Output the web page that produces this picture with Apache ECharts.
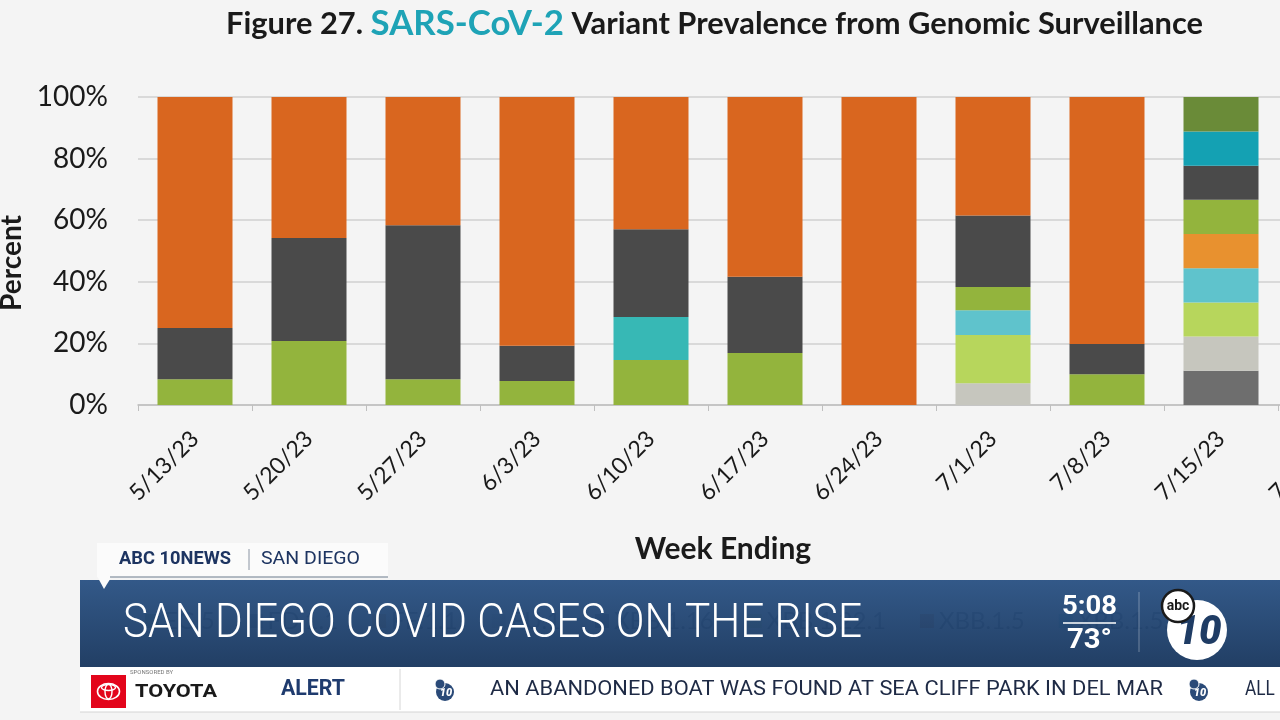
<!DOCTYPE html>
<html><head><meta charset="utf-8">
<script src="https://cdn.jsdelivr.net/npm/echarts@6/dist/echarts.min.js"></script>
<style>html,body{margin:0;padding:0;background:#F4F4F4;overflow:hidden}#chart{width:1280px;height:720px;}</style>
</head><body><div id="chart"></div>
<script>
// ---- data (percent of sequences per week) ----
const categories = ['5/13/23','5/20/23','5/27/23','6/3/23','6/10/23','6/17/23','6/24/23','7/1/23','7/8/23','7/15/23','7/22/23'];
const yTickMin = 0, yTickMax = 100, yTickStep = 20;
// stacked bottom -> top
const fd11     = [0, 0, 0, 0, 0, 0, 0, 0, 0, 11.1, null];
const fu1      = [0, 0, 0, 0, 0, 0, 0, 7.1, 0, 11.1, null];
const xbb1221  = [0, 0, 0, 0, 0, 0, 0, 15.6, 0, 11.1, null];
const xbb1559  = [0, 0, 0, 0, 0, 0, 0, 8.1, 0, 11.1, null];
const fe11     = [0, 0, 0, 0, 0, 0, 0, 0, 0, 11.1, null];
const xbb191   = [8.4, 20.8, 8.4, 7.8, 14.6, 16.9, 0, 7.5, 10.0, 11.1, null];
const xbb192   = [0, 0, 0, 0, 14.0, 0, 0, 0, 0, 0, null];
const xbb116   = [16.6, 33.4, 50.0, 11.4, 28.5, 24.7, 0, 23.2, 9.8, 11.1, null];
const xbb232   = [0, 0, 0, 0, 0, 0, 0, 0, 0, 11.1, null];
const eg5      = [0, 0, 0, 0, 0, 0, 0, 0, 0, 11.2, null];
const xbb15    = [75.0, 45.8, 41.6, 80.8, 42.9, 58.4, 100, 38.5, 80.2, 0, null];

const seriesDefs = [
  ['FD.1.1', fd11, '#6E6E6E'],
  ['FU.1', fu1, '#C6C6BE'],
  ['XBB.1.22.1', xbb1221, '#B7D65C'],
  ['XBB.1.5.59', xbb1559, '#5FC3CC'],
  ['FE.1.1', fe11, '#E8912F'],
  ['XBB.1.9.1', xbb191, '#93B43D'],
  ['XBB.1.9.2', xbb192, '#37B8B5'],
  ['XBB.1.16', xbb116, '#4A4A4A'],
  ['XBB.2.3.2', xbb232, '#14A1B3'],
  ['EG.5', eg5, '#6A8B38'],
  ['XBB.1.5', xbb15, '#D9661F']
];
const legendOrder = ['EG.5','FD.1.1','FE.1.1','FU.1','XBB.1.16','XBB.1.22.1','XBB.1.5','XBB.1.5.59','XBB.1.9.1','XBB.1.9.2','XBB.2.3.2'];

// ---- helpers for text fitting ----
const mctx = document.createElement('canvas').getContext('2d');
function tw(font, text){ mctx.font = font; return mctx.measureText(text).width; }
function fitText(text, font, x, yMid, width, fill, extra){
  const w = tw(font, text);
  return Object.assign({
    type: 'text', x: x, y: yMid, z: 120, scaleX: width / w,
    style: { text: text, font: font, fill: fill, textAlign: 'left', textVerticalAlign: 'middle' }
  }, extra || {});
}

// title measurement
const tFontA = 'bold 31px Lato', tFontB = 'bold 35px Lato';
const tA = 'Figure 27. ', tB = 'SARS-CoV-2', tC = ' Variant Prevalence from Genomic Surveillance';
const tWidth = tw(tFontA, tA) + tw(tFontB, tB) + tw(tFontA, tC);

const chart = echarts.init(document.getElementById('chart'));
const headFont = '300 48px Roboto';
const tickerFont = '400 21px Roboto';

const graphics = [
  // chart title
  { type: 'text', x: 226, y: 24, z: 50, scaleX: 977 / tWidth,
    style: { text: '{a|' + tA + '}{b|' + tB + '}{a|' + tC + '}', textVerticalAlign: 'middle',
      rich: { a: { font: tFontA, fill: '#1A1A1A' }, b: { font: tFontB, fill: '#1EA3B6' } } } },
  // axis titles
  { type: 'text', x: 12, y: 263, rotation: Math.PI / 2, z: 50,
    style: { text: 'Percent', font: 'bold 28px Lato', fill: '#1A1A1A', textAlign: 'center', textVerticalAlign: 'middle' } },
  { type: 'text', x: 723, y: 549, z: 50,
    style: { text: 'Week Ending', font: 'bold 30px Lato', fill: '#1A1A1A', textAlign: 'center', textVerticalAlign: 'middle' } },

  // station tab
  { type: 'rect', z: 110, shape: { x: 97, y: 543, width: 291, height: 34 }, style: { fill: '#FBFBFB' } },
  { type: 'polygon', z: 110, shape: { points: [[97, 576], [112, 576], [104, 589]] }, style: { fill: '#FBFBFB' } },
  { type: 'line', z: 111, shape: { x1: 110, y1: 577, x2: 388, y2: 577 }, style: { stroke: '#9AA4B0', lineWidth: 1.5 } },
  fitText('ABC 10NEWS', 'bold 18px Roboto', 119, 559, 112, '#1D3461'),
  { type: 'line', z: 111, shape: { x1: 249, y1: 549, x2: 249, y2: 570 }, style: { stroke: '#8A94A3', lineWidth: 1 } },
  fitText('SAN DIEGO', '400 18px Roboto', 261, 559, 99, '#1D3461'),

  // headline banner
  { type: 'rect', z: 100, shape: { x: 80, y: 580, width: 1200, height: 87 },
    style: { opacity: 0.97, fill: new echarts.graphic.LinearGradient(0, 0, 0, 1, [
      { offset: 0, color: '#2D5485' }, { offset: 1, color: '#1B3960' }]) } },
  fitText('SAN DIEGO COVID CASES ON THE RISE', headFont, 123, 625, 739, '#FFFFFF'),
  fitText('5:08', 'bold 26px Roboto', 1062, 607, 55, '#FFFFFF'),
  { type: 'line', z: 120, shape: { x1: 1063, y1: 623, x2: 1116, y2: 623 }, style: { stroke: '#FFFFFF', lineWidth: 1.5 } },
  fitText('73°', 'bold 28px Roboto', 1067, 641, 45, '#FFFFFF'),
  { type: 'line', z: 120, shape: { x1: 1139, y1: 592, x2: 1139, y2: 652 }, style: { stroke: 'rgba(255,255,255,0.35)', lineWidth: 1 } },
  // abc10 logo
  { type: 'circle', z: 120, shape: { cx: 1197, cy: 630, r: 30 }, style: { fill: '#FFFFFF' } },
  { type: 'text', x: 1199, y: 634, z: 121, style: { text: '10', font: 'italic 900 40px Roboto', fill: '#1F3C64', textAlign: 'center', textVerticalAlign: 'middle' } },
  { type: 'circle', z: 122, shape: { cx: 1178, cy: 606, r: 16 }, style: { fill: '#FFFFFF', stroke: '#1A1A1A', lineWidth: 2.5 } },
  { type: 'text', x: 1178, y: 606, z: 123, style: { text: 'abc', font: 'bold 14px Roboto', fill: '#1A1A1A', textAlign: 'center', textVerticalAlign: 'middle' } },

  // ticker strip
  { type: 'rect', z: 110, shape: { x: 80, y: 667, width: 1200, height: 45 }, style: { fill: '#FFFFFF' } },
  { type: 'line', z: 111, shape: { x1: 80, y1: 712, x2: 1280, y2: 712 }, style: { stroke: '#D4D4D4', lineWidth: 1 } },
  { type: 'text', x: 130, y: 672, z: 120, style: { text: 'SPONSORED BY', font: '6px Roboto', fill: '#777777', textVerticalAlign: 'middle' } },
  { type: 'rect', z: 120, shape: { x: 91, y: 675, width: 35, height: 33 }, style: { fill: '#E3051B' } },
  { type: 'ellipse', z: 121, shape: { cx: 108.5, cy: 691.5, rx: 11, ry: 8 }, style: { fill: 'none', stroke: '#FFFFFF', lineWidth: 1.6 } },
  { type: 'ellipse', z: 121, shape: { cx: 108.5, cy: 691.5, rx: 3.5, ry: 7.5 }, style: { fill: 'none', stroke: '#FFFFFF', lineWidth: 1.4 } },
  { type: 'ellipse', z: 121, shape: { cx: 108.5, cy: 687.5, rx: 7, ry: 3 }, style: { fill: 'none', stroke: '#FFFFFF', lineWidth: 1.4 } },
  fitText('TOYOTA', 'bold 19px Roboto', 135, 692, 82, '#1A1A1A'),
  fitText('ALERT', 'bold 22px Roboto', 281, 689, 64, '#1F3B6E'),
  { type: 'line', z: 111, shape: { x1: 400, y1: 669, x2: 400, y2: 710 }, style: { stroke: '#D6D6D6', lineWidth: 1 } },
  { type: 'circle', z: 120, shape: { cx: 445, cy: 692, r: 9 }, style: { fill: '#2A4A78' } },
  { type: 'circle', z: 121, shape: { cx: 440, cy: 684, r: 5 }, style: { fill: '#2A4A78', stroke: '#FFFFFF', lineWidth: 1 } },
  { type: 'text', x: 446, y: 693, z: 122, style: { text: '10', font: 'italic 900 11px Roboto', fill: '#FFFFFF', textAlign: 'center', textVerticalAlign: 'middle' } },
  fitText('AN ABANDONED BOAT WAS FOUND AT SEA CLIFF PARK IN DEL MAR', tickerFont, 490, 690, 673, '#1E2A45'),
  { type: 'circle', z: 120, shape: { cx: 1199, cy: 692, r: 9 }, style: { fill: '#2A4A78' } },
  { type: 'circle', z: 121, shape: { cx: 1194, cy: 684, r: 5 }, style: { fill: '#2A4A78', stroke: '#FFFFFF', lineWidth: 1 } },
  { type: 'text', x: 1200, y: 693, z: 122, style: { text: '10', font: 'italic 900 11px Roboto', fill: '#FFFFFF', textAlign: 'center', textVerticalAlign: 'middle' } },
  { type: 'text', x: 1245, y: 690, z: 120, scaleX: 0.82, style: { text: 'ALL', font: tickerFont, fill: '#1E2A45', textVerticalAlign: 'middle' } }
];

const option = {
  animation: false,
  backgroundColor: '#F4F4F4',
  grid: { left: 138, top: 97, width: 1254, height: 308, containLabel: false, outerBoundsMode: 'none' },
  legend: {
    data: legendOrder, left: 140, top: 604, width: 1130, itemGap: 34,
    itemWidth: 14, itemHeight: 14, icon: 'rect',
    textStyle: { fontFamily: 'Lato', fontSize: 24, color: '#333333' }
  },
  xAxis: {
    type: 'category', data: categories,
    axisLine: { lineStyle: { color: '#BFBFBF', width: 1.5 } },
    axisTick: { show: true, length: 6, interval: 0, lineStyle: { color: '#BFBFBF' } },
    axisLabel: { interval: 0, rotate: 45, margin: 30, fontFamily: 'Lato', fontSize: 23, color: '#1A1A1A' }
  },
  yAxis: {
    type: 'value', min: yTickMin, max: yTickMax, interval: yTickStep,
    axisLine: { show: false }, axisTick: { show: false },
    axisLabel: { formatter: '{value}%', margin: 30, fontFamily: 'Lato', fontSize: 28, color: '#1A1A1A' },
    splitLine: { lineStyle: { color: '#D9D9D9', width: 2 } }
  },
  series: seriesDefs.map(function (d) {
    return { name: d[0], type: 'bar', stack: 'total', data: d[1], barWidth: 75,
      itemStyle: { color: d[2] } };
  }),
  graphic: { elements: graphics }
};
chart.setOption(option);
</script>
</body></html>
